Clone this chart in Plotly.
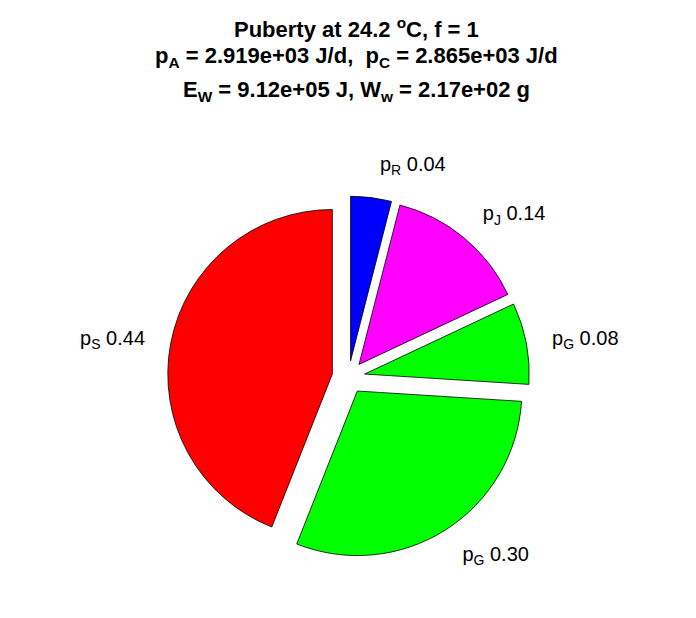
import plotly.graph_objects as go

# Data
names = ["p<sub>R</sub>", "p<sub>J</sub>", "p<sub>G</sub>", "p<sub>G</sub>", "p<sub>S</sub>"]
ids = ["R", "J", "G1", "G2", "S"]
values = [0.04, 0.14, 0.08, 0.30, 0.44]
colors = ["#0000FF", "#FF00FF", "#00FF00", "#00FF00", "#FF0000"]

title_lines = [
    "Puberty at 24.2 <sup>o</sup>C, f = 1",
    "p<sub>A</sub> = 2.919e+03 J/d,  p<sub>C</sub> = 2.865e+03 J/d",
    "E<sub>W</sub> = 9.12e+05 J, W<sub>w</sub> = 2.17e+02 g",
]

texts = [f"{n} {v:.2f}" for n, v in zip(names, values)]
FONT = "Liberation Sans, Arial, Helvetica, sans-serif"

fig = go.Figure()
# visible exploded pie
fig.add_trace(go.Pie(
    labels=ids, values=values,
    textinfo="none",
    sort=False, direction="clockwise", rotation=0,
    pull=[0.1] * len(values),
    marker=dict(colors=colors, line=dict(color="black", width=0.8)),
    hoverinfo="skip", showlegend=False, automargin=False,
    domain=dict(x=[0.2292, 0.7493], y=[0.1098, 0.6956]),
))
# transparent copy carrying the outside labels a bit further out
fig.add_trace(go.Pie(
    labels=ids, values=values,
    text=texts, textinfo="text", textposition="outside",
    textfont=dict(family=FONT, size=20, color="black"),
    sort=False, direction="clockwise", rotation=0,
    pull=[0.22] * len(values),
    marker=dict(colors=["rgba(0,0,0,0)"] * len(values), line=dict(width=0)),
    hoverinfo="skip", showlegend=False, automargin=False,
    domain=dict(x=[0.2008, 0.7777], y=[0.0778, 0.7275]),
))

title_y = [20, 49, 83]
for line, ypx in zip(title_lines, title_y):
    fig.add_annotation(
        text=f"<b>{line}</b>", xref="paper", yref="paper",
        x=0.5, xanchor="center", y=1 - ypx / 618, yanchor="middle",
        showarrow=False, font=dict(family=FONT, size=22, color="black"),
    )

fig.update_layout(
    width=696, height=618,
    margin=dict(l=0, r=0, t=0, b=0),
    paper_bgcolor="white", plot_bgcolor="white",
)

fig.write_html("out.html")
